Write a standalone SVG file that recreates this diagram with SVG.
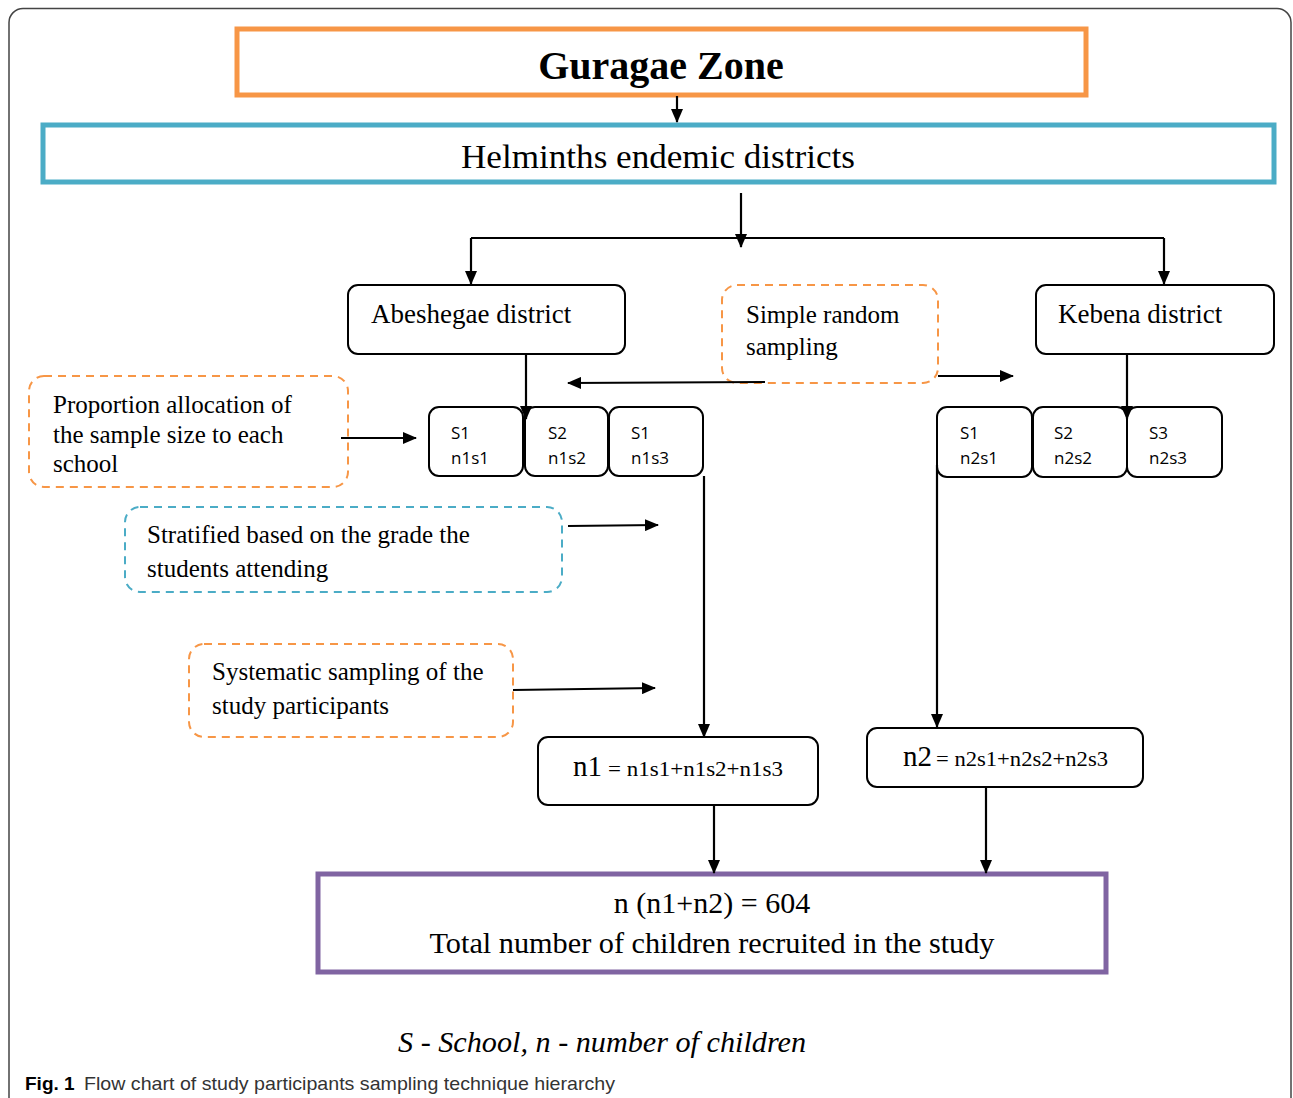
<svg xmlns="http://www.w3.org/2000/svg" width="1293" height="1098" viewBox="0 0 1293 1098">
<defs>
<marker id="ah" markerWidth="14" markerHeight="12" refX="13" refY="6" orient="auto" markerUnits="userSpaceOnUse">
<path d="M0,0 L14,6 L0,12 Z" fill="#000"/>
</marker>
<style>
.serif{font-family:"Liberation Serif","Times New Roman",serif;fill:#000}
.sans{font-family:"Open Sans","Noto Sans","Liberation Sans",sans-serif;font-size:17px;fill:#000}
.box{fill:#fff;stroke:#000;stroke-width:2}
.dorange{fill:none;stroke:#F79646;stroke-width:2;stroke-dasharray:8 6}
.dblue{fill:none;stroke:#4BACC6;stroke-width:2;stroke-dasharray:8 6}
.conn path{fill:none;stroke:#000;stroke-width:2.2}
.arr{marker-end:url(#ah)}
</style>
</defs>
<rect x="0" y="0" width="1293" height="1098" fill="#fff"/>
<rect id="frame" x="9" y="8.5" width="1282" height="1200" rx="14" fill="none" stroke="#444" stroke-width="1.5"/>

<g id="guragae">
<rect x="237" y="29" width="849" height="66" fill="#fff" stroke="#F79646" stroke-width="5"/>
<text class="serif" x="661" y="79" text-anchor="middle" font-size="40" font-weight="bold">Guragae Zone</text>
</g>
<g id="helminths">
<rect x="43" y="125" width="1231" height="57" fill="#fff" stroke="#4BACC6" stroke-width="5"/>
<text class="serif" x="658" y="168" text-anchor="middle" font-size="34" textLength="394" lengthAdjust="spacingAndGlyphs">Helminths endemic districts</text>
</g>
<g id="abeshegae">
<rect class="box" x="348" y="285" width="277" height="69" rx="10"/>
<text class="serif" x="371" y="323" font-size="27">Abeshegae district</text>
</g>
<g id="kebena">
<rect class="box" x="1036" y="285" width="238" height="69" rx="10"/>
<text class="serif" x="1058" y="323" font-size="27">Kebena district</text>
</g>
<g id="simple-random">
<rect class="dorange" x="722" y="285" width="216" height="98" rx="15"/>
<text class="serif" x="746" y="323" font-size="25">Simple random</text>
<text class="serif" x="746" y="355" font-size="25">sampling</text>
</g>
<g id="proportion">
<rect class="dorange" x="29" y="376" width="319" height="111" rx="15"/>
<text class="serif" x="53" y="413" font-size="25">Proportion allocation of</text>
<text class="serif" x="53" y="443" font-size="25">the sample size to each</text>
<text class="serif" x="53" y="472" font-size="25">school</text>
</g>
<g id="stratified">
<rect class="dblue" x="125" y="507" width="437" height="85" rx="15"/>
<text class="serif" x="147" y="543" font-size="25">Stratified based on the grade the</text>
<text class="serif" x="147" y="577" font-size="25">students attending</text>
</g>
<g id="systematic">
<rect class="dorange" x="189" y="644" width="324" height="93" rx="15"/>
<text class="serif" x="212" y="680" font-size="25">Systematic sampling of the</text>
<text class="serif" x="212" y="714" font-size="25">study participants</text>
</g>

<g id="n1s1">
<rect class="box" x="429" y="407" width="94" height="69" rx="10"/>
<text class="sans" x="451" y="439">S1</text><text class="sans" x="451" y="464">n1s1</text>
</g>
<g id="n1s2">
<rect class="box" x="525" y="407" width="83" height="69" rx="10"/>
<text class="sans" x="548" y="439">S2</text><text class="sans" x="548" y="464">n1s2</text>
</g>
<g id="n1s3">
<rect class="box" x="609" y="407" width="94" height="69" rx="10"/>
<text class="sans" x="631" y="439">S1</text><text class="sans" x="631" y="464">n1s3</text>
</g>
<g id="n2s1">
<rect class="box" x="937" y="407" width="95" height="70" rx="10"/>
<text class="sans" x="960" y="439">S1</text><text class="sans" x="960" y="464">n2s1</text>
</g>
<g id="n2s2">
<rect class="box" x="1033" y="407" width="94" height="70" rx="10"/>
<text class="sans" x="1054" y="439">S2</text><text class="sans" x="1054" y="464">n2s2</text>
</g>
<g id="n2s3">
<rect class="box" x="1127" y="407" width="95" height="70" rx="10"/>
<text class="sans" x="1149" y="439">S3</text><text class="sans" x="1149" y="464">n2s3</text>
</g>

<g id="n1">
<rect class="box" x="538" y="737" width="280" height="68" rx="10"/>
<text class="serif" x="573" y="776" font-size="29">n1</text>
<text class="serif" x="608" y="776" font-size="22" textLength="175" lengthAdjust="spacingAndGlyphs">= n1s1+n1s2+n1s3</text>
</g>
<g id="n2">
<rect class="box" x="867" y="728" width="276" height="59" rx="10"/>
<text class="serif" x="903" y="766" font-size="29">n2</text>
<text class="serif" x="936" y="766" font-size="22" textLength="172" lengthAdjust="spacingAndGlyphs">= n2s1+n2s2+n2s3</text>
</g>
<g id="total">
<rect x="318" y="874" width="788" height="98" fill="#fff" stroke="#8064A2" stroke-width="5"/>
<text class="serif" x="712" y="913" text-anchor="middle" font-size="30">n (n1+n2) = 604</text>
<text class="serif" x="712" y="953" text-anchor="middle" font-size="30" textLength="565" lengthAdjust="spacingAndGlyphs">Total number of children recruited in the study</text>
</g>

<g id="connectors" class="conn">
<path class="arr" d="M677,96 V122"/>
<path class="arr" d="M741,193 V247"/>
<path d="M471,238 H1164"/>
<path class="arr" d="M471,238 V284"/>
<path class="arr" d="M1164,238 V284"/>
<path class="arr" d="M526,354 V419"/>
<path class="arr" d="M1127,354 V419"/>
<path class="arr" d="M765,382 L568,383"/>
<path class="arr" d="M938,376 H1013"/>
<path class="arr" d="M341,438 H416"/>
<path class="arr" d="M568,526 L658,525"/>
<path class="arr" d="M513,690 L655,688"/>
<path class="arr" d="M704,476 V737"/>
<path class="arr" d="M937,465 V727"/>
<path class="arr" d="M714,805 V873"/>
<path class="arr" d="M986,787 V873"/>
</g>

<text class="serif" x="398" y="1052" font-size="30" font-style="italic" textLength="408" lengthAdjust="spacingAndGlyphs">S - School, n - number of children</text>
<g id="caption">
<text x="25" y="1090" font-family="Liberation Sans, Arial, sans-serif" font-size="19" fill="#000"><tspan font-weight="bold">Fig. 1</tspan></text>
<text x="84" y="1090" font-family="Liberation Sans, Arial, sans-serif" font-size="19" fill="#333" textLength="531" lengthAdjust="spacingAndGlyphs">Flow chart of study participants sampling technique hierarchy</text>
</g>
</svg>
